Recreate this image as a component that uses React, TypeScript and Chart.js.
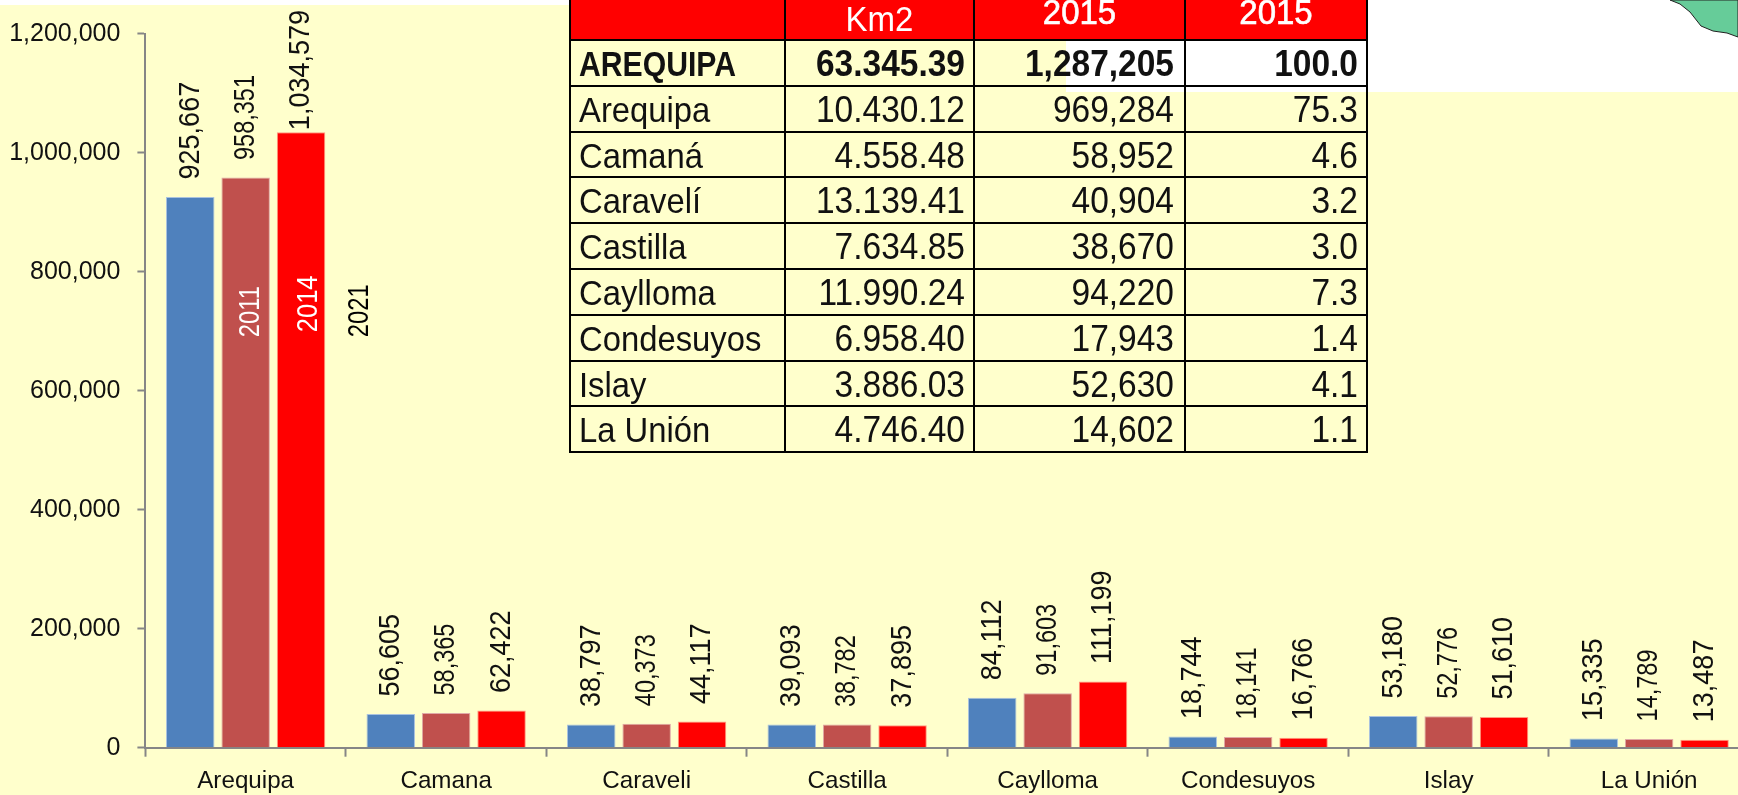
import React, { useEffect, useRef } from "react";
import { Chart, registerables } from "chart.js";

Chart.register(...registerables);

const categories = ["Arequipa", "Camana", "Caraveli", "Castilla", "Caylloma", "Condesuyos", "Islay", "La Unión"];
const seriesNames = ["2011", "2014", "2021"];
const values2011 = [925667, 56605, 38797, 39093, 84112, 18744, 53180, 15335];
const values2014 = [958351, 58365, 40373, 38782, 91603, 18141, 52776, 14789];
const values2021 = [1034579, 62422, 44117, 37895, 111199, 16766, 51610, 13487];
const yMax = 1200000;
const yStep = 200000;

const tableHeader = ["", "Km2", "2015", "2015"];
const tableProvinces = ["AREQUIPA", "Arequipa", "Camaná", "Caravelí", "Castilla", "Caylloma", "Condesuyos", "Islay", "La Unión"];
const tableAreas = ["63.345.39", "10.430.12", "4.558.48", "13.139.41", "7.634.85", "11.990.24", "6.958.40", "3.886.03", "4.746.40"];
const tablePopulation = ["1,287,205", "969,284", "58,952", "40,904", "38,670", "94,220", "17,943", "52,630", "14,602"];
const tableShare = ["100.0", "75.3", "4.6", "3.2", "3.0", "7.3", "1.4", "4.1", "1.1"];

const FONT = '"Liberation Sans", sans-serif';
const seriesColors = ["#4F81BD", "#C0504D", "#FF0000"];
const seriesEdges = ["#A9C2DE", "#E0A9A7", "#FF9A80"];
const labelSizes = [27, 23.5, 27];
const labelStretch = [1.12, 1.25, 1.12];
const nameStyles = [
  { dx: 61, rise: 410, color: "#ffffff", size: 23.8, stretch: 1.25 },
  { dx: 63, rise: 415, color: "#ffffff", size: 25.5, stretch: 1.15 },
  { dx: 59, rise: 410, color: "#000000", size: 23.8, stretch: 1.25 },
];
const mapOutline = "1670,0 1680,4 1690,12 1701,26 1713,31 1727,33 1738,37 1738,0";

const rotatedText = (ctx: any, text: string, x: number, y: number, size: number, color: string, stretch: number) => {
  ctx.save();
  ctx.translate(x, y);
  ctx.rotate(-Math.PI / 2);
  ctx.scale(1, stretch);
  ctx.font = `${size}px ${FONT}`;
  ctx.fillStyle = color;
  ctx.textAlign = "left";
  ctx.textBaseline = "middle";
  ctx.fillText(text, 0, 0);
  ctx.restore();
};

const labelPlugin = {
  id: "barLabels",
  afterDatasetsDraw(chart: any) {
    chart.data.datasets.forEach((ds: any, d: number) => {
      const meta = chart.getDatasetMeta(d);
      meta.data.forEach((bar: any, i: number) => {
        const tall = ds.data[i] > 1000000;
        const gap = tall ? 2 : 17.5;
        rotatedText(chart.ctx, ds.data[i].toLocaleString("en-US"), bar.x, bar.y - gap, labelSizes[d], "#111", labelStretch[d]);
      });
      const first = meta.data[0];
      const s = nameStyles[d];
      rotatedText(chart.ctx, ds.label, first.x + s.dx, first.base - s.rise, s.size, s.color, s.stretch);
    });
  },
};

const lineStyle = "2px solid #000";
const cellStyle: React.CSSProperties = { border: lineStyle, padding: "0 8px", whiteSpace: "nowrap", overflow: "hidden" };
const rowEdge = (r: number) => Math.round(40 + 45.8 * r);
const tallText: React.CSSProperties = { display: "inline-block", transform: "scaleY(1.08)", position: "relative", top: 1 };
const firstRowLabel: React.CSSProperties = { ...tallText, transform: "scaleX(0.92) scaleY(1.08)", transformOrigin: "left center" };

export default function App() {
  const canvasRef = useRef<HTMLCanvasElement | null>(null);

  useEffect(() => {
    document.body.style.margin = "0";
    const chart = new Chart(canvasRef.current as HTMLCanvasElement, {
      type: "bar",
      data: {
        labels: categories,
        datasets: [values2011, values2014, values2021].map((data, i) => ({
          label: seriesNames[i],
          data,
          backgroundColor: seriesColors[i],
          borderColor: seriesEdges[i],
          borderWidth: 1,
          categoryPercentage: 0.829,
          barPercentage: 0.875,
        })),
      },
      options: {
        responsive: false,
        animation: false,
        layout: { padding: { top: 33.7, right: 10.6, left: 0, bottom: 0 } },
        plugins: { legend: { display: false }, tooltip: { enabled: false } },
        scales: {
          x: {
            grid: { offset: true, drawOnChartArea: false, tickLength: 9, tickColor: "#868686", tickWidth: 2 },
            border: { color: "#868686", width: 2 },
            ticks: { color: "#111", padding: 10, maxRotation: 0, autoSkip: false, font: { family: FONT, size: 24.2 } },
            afterFit: (s: any) => { s.height = 47.3; },
          },
          y: {
            min: 0,
            max: yMax,
            grid: { drawOnChartArea: false, tickLength: 8, tickColor: "#868686", tickWidth: 2 },
            border: { color: "#868686", width: 2 },
            ticks: {
              stepSize: yStep,
              color: "#111",
              padding: 17,
              font: { family: FONT, size: 25 },
              callback: (v: any) => Number(v).toLocaleString("en-US"),
            },
            afterFit: (s: any) => { s.width = 145.4; },
          },
        },
      },
      plugins: [labelPlugin],
    } as any);
    return () => chart.destroy();
  }, []);

  return (
    <div style={{ position: "fixed", left: 0, top: 0, width: 1738, height: 795, overflow: "hidden", background: "#FFFFCC", fontFamily: FONT }}>
      <div style={{ position: "absolute", left: 0, top: 0, width: 1738, height: 5, background: "#fff" }} />
      <div style={{ position: "absolute", left: 1066, top: 0, width: 672, height: 92, background: "#fff" }} />
      <svg width={1738} height={795} style={{ position: "absolute", left: 0, top: 0 }}>
        <polygon points={mapOutline} fill="#66CC99" stroke="#222" strokeWidth={1} />
      </svg>
      <canvas ref={canvasRef} width={1760} height={795} style={{ position: "absolute", left: 0, top: 0, display: "block" }} />
      <table style={{ position: "absolute", left: 569, top: -6, width: 797, tableLayout: "fixed", borderCollapse: "collapse", fontSize: 33.5, color: "#111", lineHeight: "40px" }}>
        <colgroup>
          <col style={{ width: 215 }} />
          <col style={{ width: 189 }} />
          <col style={{ width: 211 }} />
          <col style={{ width: 182 }} />
        </colgroup>
        <tbody>
          <tr style={{ height: 46 }}>
            {tableHeader.map((h, i) => (
              <td key={i} style={{ ...cellStyle, background: "#FF0000", color: "#fff", textAlign: "center", borderTop: "none", padding: 0 }}>
                <span style={{ display: "inline-block", transform: "scaleY(1.08)", position: "relative", top: i === 1 ? 2 : -5, fontSize: 33, WebkitTextStroke: i === 1 ? "0" : "0.6px #fff" }}>{h}</span>
              </td>
            ))}
          </tr>
          {tableProvinces.map((p, r) => (
            <tr key={p} style={{ height: rowEdge(r + 1) - rowEdge(r), fontWeight: r === 0 ? 700 : 400 }}>
              <td style={{ ...cellStyle, fontSize: 32.8 }}><span style={r === 0 ? firstRowLabel : tallText}>{p}</span></td>
              <td style={{ ...cellStyle, textAlign: "right" }}><span style={tallText}>{tableAreas[r]}</span></td>
              <td style={{ ...cellStyle, textAlign: "right", paddingRight: 10 }}><span style={tallText}>{tablePopulation[r]}</span></td>
              <td style={{ ...cellStyle, textAlign: "right" }}><span style={tallText}>{tableShare[r]}</span></td>
            </tr>
          ))}
        </tbody>
      </table>
    </div>
  );
}
